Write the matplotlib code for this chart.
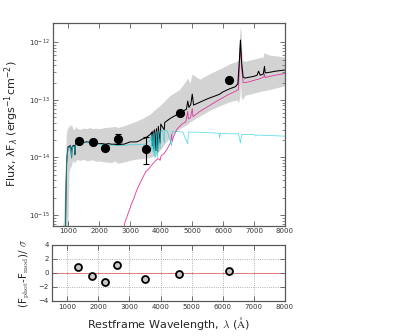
import numpy as np
import matplotlib
matplotlib.use("Agg")
from matplotlib import pyplot as plt
from matplotlib.ticker import FixedLocator, NullFormatter, NullLocator, LogFormatterSciNotation

# photometry (restframe wavelength in A, flux in erg/s/cm2)
phot_wave = [1350, 1800, 2200, 2600, 3500, 4600, 6200]
phot_flux = [1.95e-14, 1.82e-14, 1.48e-14, 2.06e-14, 1.41e-14, 6.0e-14, 2.22e-13]
phot_err_lo = [0.1e-14, 0.1e-14, 0.15e-14, 0.35e-14, 0.63e-14, 0.3e-14, 0.1e-13]
phot_err_hi = [0.1e-14, 0.1e-14, 0.15e-14, 0.45e-14, 0.88e-14, 0.3e-14, 0.1e-13]
resid = [0.9, -0.4, -1.3, 1.1, -0.9, -0.2, 0.3]

# total model (log10 flux)
tot_wave = [880, 910, 930, 950, 970, 1000, 1030, 1060, 1090, 1110, 1125, 1170, 1200, 1216,
            1235, 1300, 1400, 1500, 1600, 1700, 1800, 1900, 2000, 2100, 2200, 2300, 2400,
            2500, 2600, 2700, 2800, 2900, 3000, 3100, 3200, 3300, 3400, 3500, 3600, 3650,
            3700, 3720, 3740, 3770, 3790, 3835, 3850, 3889, 3910, 3970, 3990, 4102, 4120,
            4200, 4300, 4400, 4500, 4600, 4700, 4820, 4861, 4900, 4959, 5007, 5050, 5250,
            5500, 5800, 5890, 6000, 6200, 6400, 6480, 6530, 6563, 6600, 6650, 6700, 6800,
            6900, 7000, 7100, 7150, 7200, 7300, 7320, 7340, 7360, 7500, 7700, 8000, 8100]
tot_logf = [-16.0, -15.3, -14.6, -14.1, -13.95, -13.81, -13.83, -13.79, -13.85, -14.0, -13.82,
            -13.79, -13.8, -13.95, -13.76, -13.73, -13.72, -13.74, -13.73, -13.74, -13.73,
            -13.75, -13.76, -13.76, -13.77, -13.76, -13.77, -13.77, -13.78, -13.77, -13.77,
            -13.75, -13.73, -13.73, -13.73, -13.71, -13.68, -13.66, -13.62, -13.6, -13.56,
            -13.8, -13.54, -13.85, -13.52, -13.88, -13.5, -13.9, -13.46, -13.75, -13.42,
            -13.52, -13.39, -13.36, -13.32, -13.29, -13.26, -13.23, -13.2, -13.16, -13.02,
            -13.13, -13.08, -12.9, -13.09, -13.04, -12.98, -12.92, -12.9, -12.86, -12.81,
            -12.77, -12.72, -12.3, -11.96, -12.35, -12.6, -12.62, -12.61, -12.6, -12.59,
            -12.57, -12.5, -12.57, -12.55, -12.48, -12.42, -12.53, -12.52, -12.5, -12.48,
            -12.47]

# young stellar component (log10 flux)
young_wave = [880, 910, 930, 950, 970, 1000, 1030, 1060, 1090, 1110, 1125, 1170, 1200, 1216,
              1235, 1300, 1400, 1500, 1600, 1700, 1800, 1900, 2000, 2200, 2400, 2600, 2800,
              3000, 3200, 3400, 3500, 3600, 3650, 3680, 3700, 3720, 3740, 3760, 3770, 3790,
              3800, 3835, 3850, 3889, 3910, 3970, 3990, 4050, 4102, 4120, 4200, 4340, 4360,
              4500, 4700, 4861, 4880, 5200, 5500, 5870, 5890, 5910, 6200, 6500, 6563, 6600,
              7000, 7060, 7100, 7500, 8000, 8100]
young_logf = [-16.0, -15.3, -14.6, -14.1, -13.96, -13.82, -13.84, -13.8, -13.86, -14.02, -13.83,
              -13.8, -13.81, -13.97, -13.77, -13.74, -13.73, -13.75, -13.74, -13.75, -13.74,
              -13.76, -13.77, -13.78, -13.79, -13.79, -13.79, -13.78, -13.78, -13.77, -13.77,
              -13.72, -13.7, -13.62, -13.85, -13.6, -13.9, -13.58, -13.95, -13.57, -14.0,
              -13.98, -13.55, -14.0, -13.54, -13.85, -13.53, -13.53, -13.75, -13.53, -13.54,
              -13.8, -13.55, -13.55, -13.56, -13.76, -13.56, -13.56, -13.57, -13.58, -13.66,
              -13.58, -13.59, -13.59, -13.75, -13.6, -13.6, -13.63, -13.61, -13.62, -13.63,
              -13.63]

# old stellar component (log10 flux)
old_wave = [2750, 2800, 2850, 2900, 2950, 3000, 3050, 3100, 3200, 3300, 3400, 3500, 3600,
            3700, 3800, 3900, 3970, 4000, 4100, 4200, 4300, 4340, 4360, 4400, 4500, 4600,
            4700, 4800, 4861, 4880, 4950, 5007, 5030, 5250, 5500, 5800, 6000, 6200, 6400,
            6500, 6530, 6563, 6600, 6650, 6800, 7000, 7200, 7320, 7340, 7360, 7600, 8000, 8100]
old_logf = [-15.6, -15.2, -15.1, -15.03, -14.95, -14.88, -14.8, -14.74, -14.59, -14.47, -14.36,
            -14.25, -14.2, -14.13, -14.07, -14.02, -14.05, -13.97, -13.93, -13.85, -13.75,
            -13.6, -13.72, -13.64, -13.52, -13.46, -13.41, -13.38, -13.2, -13.33, -13.31,
            -13.15, -13.29, -13.2, -13.12, -13.02, -12.96, -12.9, -12.85, -12.82, -12.4,
            -12.02, -12.45, -12.7, -12.69, -12.66, -12.63, -12.6, -12.55, -12.61, -12.58,
            -12.54, -12.53]

# model uncertainty band (log10 flux)
band_wave = [750, 850, 900, 940, 970, 1000, 1030, 1060, 1100, 1150, 1200, 1250, 1300, 1400,
             1500, 1600, 1700, 1800, 1900, 2000, 2200, 2400, 2500, 2600, 2800, 3000, 3200,
             3400, 3640, 3800, 4000, 4290, 4600, 4861, 4933, 5000, 5250, 5580, 5900, 6225,
             6440, 6500, 6540, 6563, 6590, 6620, 6710, 7000, 7300, 7320, 7500, 7800, 8000, 8100]
band_hi = [-15.35, -15.1, -14.3, -13.6, -13.5, -13.48, -13.43, -13.47, -13.42, -13.5, -13.52,
           -13.46, -13.5, -13.51, -13.49, -13.5, -13.48, -13.5, -13.49, -13.5, -13.48, -13.47,
           -13.46, -13.48, -13.45, -13.41, -13.37, -13.32, -13.25, -13.17, -13.08, -12.92,
           -12.82, -12.62, -12.71, -12.55, -12.64, -12.54, -12.46, -12.37, -12.33, -12.3,
           -11.85, -11.72, -11.85, -12.3, -12.33, -12.29, -12.25, -12.18, -12.22, -12.24,
           -12.26, -12.26]
band_lo = [-15.5, -15.5, -15.5, -15.5, -15.5, -15.0, -14.25, -14.18, -14.15, -14.05, -14.1,
           -14.05, -14.04, -14.05, -14.03, -14.06, -14.05, -14.04, -14.07, -14.06, -14.08,
           -14.09, -14.06, -14.1, -14.08, -14.05, -14.03, -14.02, -14.0, -13.97, -13.85,
           -13.64, -13.5, -13.42, -13.38, -13.36, -13.28, -13.18, -13.1, -13.03, -13.0,
           -13.05, -12.95, -12.7, -12.95, -13.0, -12.92, -12.88, -12.84, -12.84, -12.82,
           -12.78, -12.75, -12.74]

ymajor = [1e-15, 1e-14, 1e-13, 1e-12]
xticks = [1000, 2000, 3000, 4000, 5000, 6000, 7000, 8000]

plt.rcParams['font.family'] = ['DejaVu Sans']
plt.rcParams['xtick.direction'] = 'in'
plt.rcParams['ytick.direction'] = 'in'
plt.rcParams['xtick.top'] = True
plt.rcParams['ytick.right'] = True

edge = '0.35'
fig = plt.figure(figsize=(3.95, 3.36), dpi=100)
ax = fig.add_axes([0.1334, 0.3283, 0.588, 0.6041])
ax2 = fig.add_axes([0.1309, 0.1042, 0.5906, 0.1667])

ax.fill_between(band_wave, 10**np.array(band_lo), 10**np.array(band_hi),
                color='#d3d3d3', lw=0, zorder=1)
ax.plot(old_wave, 10**np.array(old_logf), color='#e0359b', lw=0.6, zorder=2)
ax.plot(tot_wave, 10**np.array(tot_logf), color='black', lw=0.75, zorder=3)
ax.plot(young_wave, 10**np.array(young_logf), color='#1ad0dc', lw=0.5, alpha=0.8, zorder=4)
ax.errorbar(phot_wave, phot_flux, yerr=[phot_err_lo, phot_err_hi], fmt='o', color='black',
            ms=5.6, elinewidth=0.8, capsize=2, capthick=0.8, zorder=5)

ax.set_yscale('log')
ax.set_xlim(500, 8000)
ax.set_ylim(6.5e-16, 2.2e-12)
ax.set_xticks(xticks)
ax.yaxis.set_major_locator(FixedLocator(ymajor))
ax.yaxis.set_major_formatter(LogFormatterSciNotation())
minor = [m * d for d in ymajor[:-1] + [1e-16] for m in range(2, 10)]
minor = [v for v in minor if 6.5e-16 < v < 2.2e-12]
ax.yaxis.set_minor_locator(FixedLocator(minor))
ax.yaxis.set_minor_formatter(NullFormatter())
ax.set_ylabel('Flux, λF$_λ$ (ergs$^{-1}$cm$^{-2}$)', fontsize=8, color='0.15', labelpad=6)

ax2.axhline(0, color='red', lw=0.5, alpha=0.8, zorder=1)
ax2.plot(phot_wave, resid, 'o', ms=5, mfc='#c8c8c8', mec='black', mew=1.3, zorder=3)
ax2.set_xlim(500, 8000)
ax2.set_ylim(-4, 4)
ax2.set_xticks(xticks)
ax2.set_yticks([-4, -2, 0, 2, 4])
ax2.grid(True, ls=':', color='0.6', lw=0.6)
ax2.set_ylabel(r'(F$_{\rm phot}$-F$_{\rm mod}$)/ $\sigma$', fontsize=7.5, color='0.15',
               math_fontfamily='cm', labelpad=5)
ax2.set_xlabel(r'Restframe Wavelength, $\lambda$ ($\rm\AA$)', fontsize=8, color='0.15',
               math_fontfamily='cm')

for a in (ax, ax2):
    for s in a.spines.values():
        s.set_color(edge)
        s.set_linewidth(0.9)
    a.tick_params(which='major', length=3.5, width=0.6, color=edge, labelsize=5,
                  labelcolor='0.2', pad=2)
    a.tick_params(which='minor', length=2, width=0.5, color=edge)
    a.xaxis.set_minor_locator(NullLocator())

fig.savefig('out.png', dpi=100)
